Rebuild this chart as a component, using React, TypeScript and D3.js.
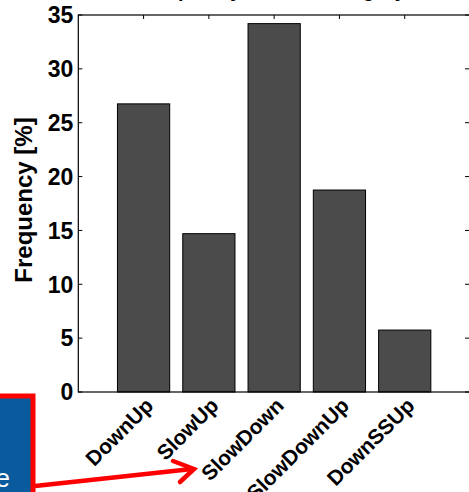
import React from "react";
import * as d3 from "d3";

const categories = ["DownUp", "SlowUp", "SlowDown", "SlowDownUp", "DownSSUp"];
const frequencies = [26.75, 14.7, 34.2, 18.75, 5.75];
const yTicks = [0, 5, 10, 15, 20, 25, 30, 35];
const yLabel = "Frequency [%]";
const titleText = "Frequency of each category";
const calloutText = "here";

const W = 469;
const H = 492;
const left = 78.3;
const right = 470;
const top = 15;
const bottom = 392;

export default function App() {
  const x = d3.scaleLinear().domain([0, categories.length + 1]).range([left, right]);
  const y = d3.scaleLinear().domain([0, 35]).range([bottom, top]);
  const barW = x(0.8) - x(0);
  const font = "'Liberation Sans', Arial, Helvetica, sans-serif";
  const tickLen = 4;

  return (
    <svg
      width={W}
      height={H}
      style={{ position: "absolute", left: 0, top: 0, background: "#fff" }}
      fontFamily={font}
    >
      <rect x={0} y={0} width={W} height={H} fill="#fff" />
      {/* title (mostly cropped) */}
      <text x={273} y={-3.5} textAnchor="middle" fontSize={20} fontWeight="bold" fill="#000">
        {titleText}
      </text>

      {/* bars */}
      {frequencies.map((v, i) => (
        <rect
          key={categories[i]}
          x={x(i + 1) - barW / 2}
          y={y(v)}
          width={barW}
          height={y(0) - y(v)}
          fill="#4b4b4b"
          stroke="#000"
          strokeWidth={1}
        />
      ))}

      {/* axes box */}
      <rect
        x={left}
        y={top}
        width={right - left}
        height={bottom - top}
        fill="none"
        stroke="#000"
        strokeWidth={1.2}
      />

      {/* y ticks */}
      {yTicks.map((t) => (
        <g key={t}>
          <line x1={left} x2={left + tickLen} y1={y(t)} y2={y(t)} stroke="#000" strokeWidth={1} />
          <line x1={right - tickLen - 1} x2={right} y1={y(t)} y2={y(t)} stroke="#000" strokeWidth={1} />
          <text
            x={left - 5}
            y={y(t)}
            dy="0.36em"
            textAnchor="end"
            fontSize={23}
            fontWeight="bold"
            fill="#000"
          >
            {t}
          </text>
        </g>
      ))}

      {/* x ticks and labels */}
      {categories.map((c, i) => {
        const cx = x(i + 1);
        const ax = cx + 11;
        const ay = bottom + 15;
        return (
          <g key={c}>
            <line x1={cx} x2={cx} y1={top} y2={top + tickLen} stroke="#000" strokeWidth={1} />
            <text
              x={ax}
              y={ay}
              transform={`rotate(-45, ${ax}, ${ay})`}
              textAnchor="end"
              fontSize={21}
              fontWeight="bold"
              fill="#000"
            >
              {c}
            </text>
          </g>
        );
      })}

      {/* y label */}
      <text
        transform={`translate(32, ${(112 + 288) / 2}) rotate(-90)`}
        textAnchor="middle"
        fontSize={24}
        fontWeight="bold"
        fill="#000"
      >
        {yLabel}
      </text>

      {/* callout box (cropped) */}
      <rect x={-40} y={396} width={73} height={140} fill="#0a5a9e" stroke="#ff0000" strokeWidth={5} />
      <text x={10} y={487} textAnchor="end" fontSize={26} fill="#fff">
        {calloutText}
      </text>

      {/* arrow */}
      <line x1={35} y1={486} x2={192} y2={469} stroke="#ff0000" strokeWidth={4.5} />
      <polyline
        points="173,461 194,469 180,482"
        fill="none"
        stroke="#ff0000"
        strokeWidth={4.5}
        strokeLinejoin="miter"
        strokeLinecap="round"
      />
    </svg>
  );
}
